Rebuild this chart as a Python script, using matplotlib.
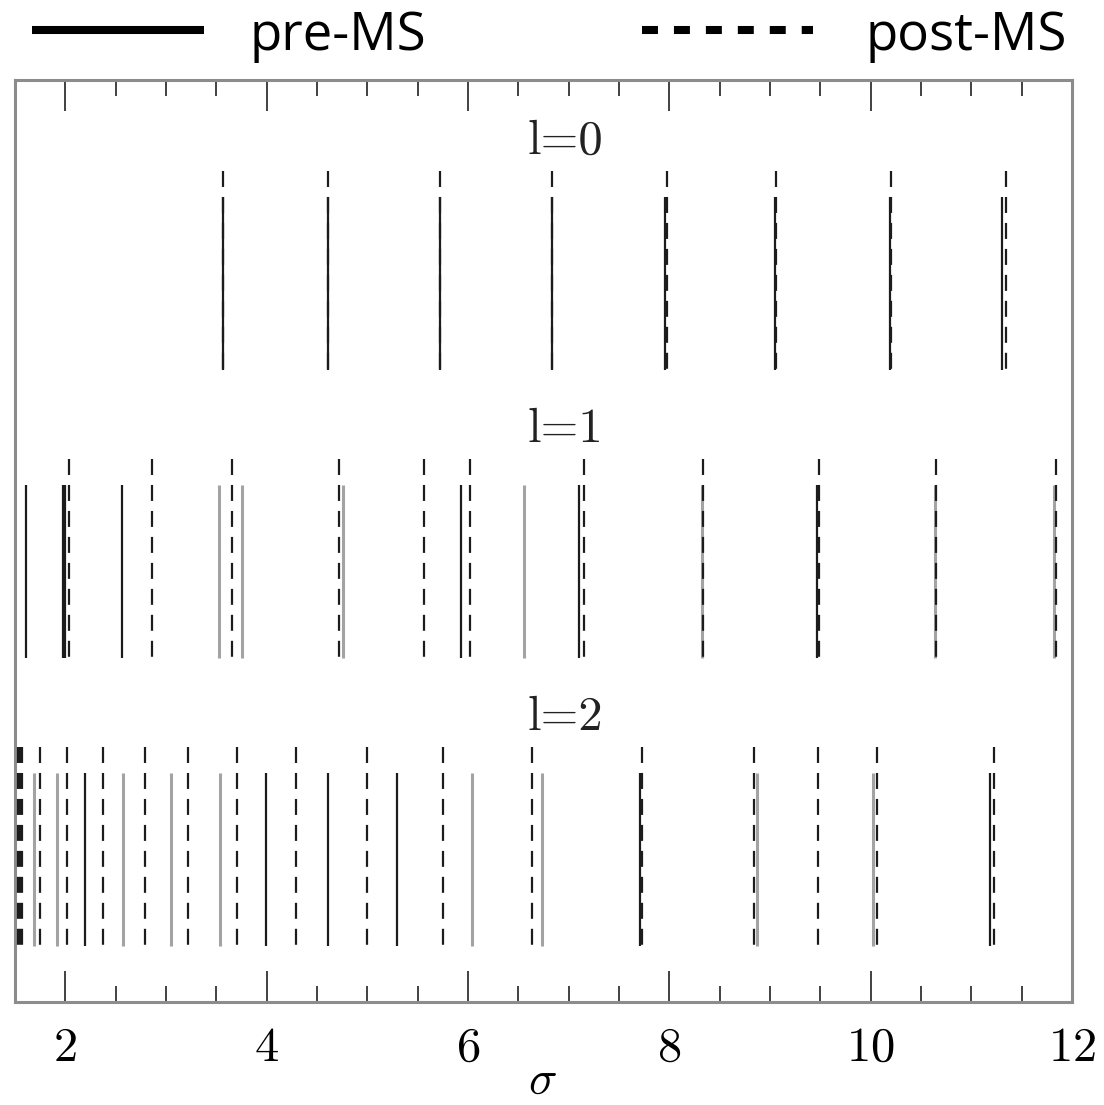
import matplotlib
matplotlib.use("Agg")
import matplotlib.pyplot as plt
from matplotlib.lines import Line2D
from matplotlib.ticker import MultipleLocator, FuncFormatter

plt.rcParams['mathtext.fontset'] = 'cm'
plt.rcParams['lines.scale_dashes'] = False

# mode frequencies sigma, per degree l
l0_pre = [3.565, 4.611, 5.724, 6.838, 7.960, 9.048, 10.19, 11.30]
l0_pre_grey = [0, 0, 0, 0, 0, 0, 0, 0]
l0_post = [3.565, 4.611, 5.724, 6.838, 7.973, 9.062, 10.20, 11.34]

l1_pre = [1.608, 1.975, 1.992, 2.561, 3.527, 3.759, 4.761, 5.926, 6.554,
          7.107, 8.328, 9.469, 10.64, 11.82]
l1_pre_grey = [0, 0, 0, 0, 1, 1, 1, 0, 1, 0, 1, 0, 1, 1]
l1_post = [2.038, 2.859, 3.653, 4.722, 5.561, 6.022, 7.156, 8.330, 9.489,
           10.653, 11.838]

l2_pre = [1.690, 1.913, 2.200, 2.568, 3.047, 3.533, 3.993, 4.608, 5.290,
          6.038, 6.739, 7.712, 8.870, 10.025, 11.183]
l2_pre_grey = [1, 1, 0, 1, 1, 1, 0, 0, 0, 1, 1, 0, 1, 1, 0]
l2_post = [1.530, 1.548, 1.565, 1.744, 2.015, 2.379, 2.789, 3.223, 3.702,
           4.291, 4.995, 5.747, 6.633, 7.729, 8.837, 9.476, 10.065, 11.226]

rows = [
    ("0", l0_pre, l0_pre_grey, l0_post),
    ("1", l1_pre, l1_pre_grey, l1_post),
    ("2", l2_pre, l2_pre_grey, l2_post),
]

DARK = '#1c1c1c'
GREY = '#a3a3a3'

fig = plt.figure(figsize=(11.04, 11.05), dpi=100)
ax = fig.add_axes([15 / 1104, 103 / 1105, 1057 / 1104, 922 / 1105])
ax.set_xlim(1.5, 12)
ax.set_ylim(0, 1)

row_bottom = [0.6855, 0.3731, 0.0607]
solid_h = 0.1876
dashed_h = 0.2158

for (deg, pre, grey, post), y0 in zip(rows, row_bottom):
    # grey pre-MS modes first, then black, dashed post-MS on top
    for s, g in zip(pre, grey):
        if g:
            ax.plot([s, s], [y0 + solid_h, y0], color=GREY, lw=2.2,
                    solid_capstyle='butt', zorder=2)
    for s, g in zip(pre, grey):
        if not g:
            ax.plot([s, s], [y0 + solid_h, y0], color=DARK, lw=1.6,
                    solid_capstyle='butt', zorder=3)
    for s in post:
        ax.plot([s, s], [y0 + dashed_h, y0], color=DARK, lw=1.6,
                dashes=(11.5, 7.2), dash_capstyle='butt', zorder=4)
    ax.text(6.97, y0 + dashed_h + 0.032, 'l=' + deg, family='cmr10',
            ha='center', va='center', fontsize=35, color='#222222')

ax.set_yticks([])
ax.xaxis.set_major_locator(MultipleLocator(2))
ax.xaxis.set_minor_locator(MultipleLocator(0.5))
ax.xaxis.set_major_formatter(FuncFormatter(lambda v, p: f'${v:g}$'))
ax.tick_params(axis='x', which='both', direction='in', top=True, bottom=True,
               color='#333333', width=1.3)
ax.tick_params(axis='x', which='major', length=22, labelsize=35, pad=15)
ax.tick_params(axis='x', which='minor', length=11.5)
for sp in ax.spines.values():
    sp.set_color('#8c8c8c')
    sp.set_linewidth(2.2)

ax.set_xlabel(r'$\sigma$', fontsize=34)
ax.xaxis.set_label_coords(0.4986, -0.062)

# legend drawn in figure coordinates above the frame
fig.add_artist(Line2D([32 / 1104, 204 / 1104], [0.9724, 0.9724], color='black',
                      lw=5.8, solid_capstyle='butt'))
fig.add_artist(Line2D([642 / 1104, 813 / 1104], [0.9724, 0.9724], color='black',
                      lw=5.8, dashes=(11.5, 11.5), dash_capstyle='butt'))
fig.text(250 / 1104, 1 - 50 / 1105, 'pre-MS', fontsize=38, family='Open Sans',
         va='baseline', ha='left')
fig.text(865 / 1104, 1 - 50 / 1105, 'post-MS', fontsize=38, family='Open Sans',
         va='baseline', ha='left')

fig.savefig('out.png', dpi=100, facecolor='white')
